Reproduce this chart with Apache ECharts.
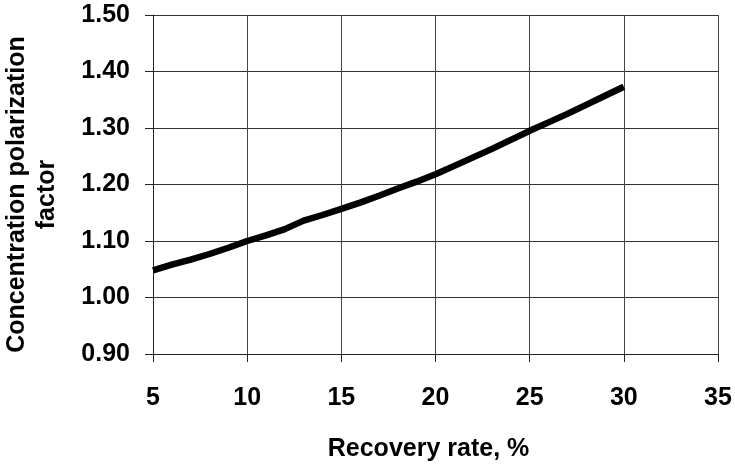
<!DOCTYPE html>
<html>
<head>
<meta charset="utf-8">
<script src="https://cdn.jsdelivr.net/npm/echarts@6/dist/echarts.min.js"></script>
<style>html,body{margin:0;padding:0;background:#fff}#c{width:735px;height:464px}</style>
</head>
<body>
<div id="c"></div>
<script>
var recoveryRate = [5,6,7,8,9,10,11,12,13,14,15,16,17,18,19,20,21,22,23,24,25,26,27,28,29,30];
var polarizationFactor = [1.048,1.058,1.067,1.077,1.088,1.100,1.110,1.121,1.136,1.146,1.157,1.168,1.180,1.193,1.205,1.218,1.233,1.248,1.263,1.279,1.295,1.310,1.325,1.341,1.357,1.373];
var xTitle = 'Recovery rate, %';
var yTitle = 'Concentration polarization\nfactor';

var chart = echarts.init(document.getElementById('c'), null, {renderer:'canvas'});
var font = 'Liberation Sans, Arial, sans-serif';
chart.setOption({
  animation: false,
  backgroundColor: '#fff',
  grid: {left:153, right:17, top:15, bottom:110, containLabel:false, outerBoundsMode:'none'},
  xAxis: {
    type:'value', min:5, max:35, interval:5,
    name:xTitle, nameLocation:'middle', nameGap:83,
    nameTextStyle:{fontFamily:font, fontSize:25, fontWeight:'bold', color:'#000', padding:[0,14,0,0]},
    axisLine:{show:true, lineStyle:{color:'#222', width:1}},
    axisTick:{show:true, length:8, lineStyle:{color:'#222'}},
    axisLabel:{fontFamily:font, fontSize:25, fontWeight:'bold', color:'#000', margin:32},
    splitLine:{show:true, lineStyle:{color:'#444', width:1}}
  },
  yAxis: {
    type:'value', min:0.9, max:1.5, interval:0.1,
    name:yTitle, nameLocation:'middle', nameGap:91,
    nameTextStyle:{fontFamily:font, fontSize:25, fontWeight:'bold', color:'#000', lineHeight:30, align:'center', padding:[0,20,0,0]},
    axisLine:{show:true, lineStyle:{color:'#222', width:1}},
    axisTick:{show:true, length:8, lineStyle:{color:'#222'}},
    axisLabel:{fontFamily:font, fontSize:25, fontWeight:'bold', color:'#000', margin:23, formatter:function(v){return v.toFixed(2);}},
    splitLine:{show:true, lineStyle:{color:'#333', width:1}}
  },
  series: [{
    type:'line', data: recoveryRate.map(function(x,i){return [x, polarizationFactor[i]];}),
    showSymbol:false, symbol:'none', smooth:false,
    lineStyle:{color:'#000', width:6.5}
  }]
});
</script>
</body>
</html>
